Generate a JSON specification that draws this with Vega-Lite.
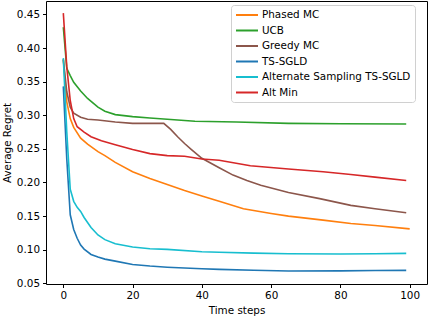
{
  "$schema": "https://vega.github.io/schema/vega-lite/v6.json",
  "width": 381,
  "height": 283,
  "autosize": {"type": "none"},
  "padding": {"left": 46, "top": 1, "right": 1, "bottom": 34},
  "background": "white",
  "config": {
    "font": "DejaVu Sans",
    "view": {"stroke": "black", "strokeWidth": 1},
    "axis": {"grid": false, "domain": false, "tickColor": "black", "tickSize": 3.5, "labelColor": "black", "labelFontSize": 10.4, "titleFontSize": 10.4, "titleFontWeight": "normal", "titleColor": "black", "labelPadding": 3}
  },
  "data": {"values": [
    {"series":"Phased MC","step":0,"regret":0.383},{"series":"Phased MC","step":1,"regret":0.320},{"series":"Phased MC","step":2,"regret":0.295},{"series":"Phased MC","step":3,"regret":0.282},{"series":"Phased MC","step":5,"regret":0.266},{"series":"Phased MC","step":7,"regret":0.257},{"series":"Phased MC","step":10,"regret":0.246},{"series":"Phased MC","step":12,"regret":0.240},{"series":"Phased MC","step":15,"regret":0.230},{"series":"Phased MC","step":20,"regret":0.216},{"series":"Phased MC","step":25,"regret":0.206},{"series":"Phased MC","step":30,"regret":0.197},{"series":"Phased MC","step":35,"regret":0.188},{"series":"Phased MC","step":40,"regret":0.180},{"series":"Phased MC","step":45,"regret":0.172},{"series":"Phased MC","step":52,"regret":0.161},{"series":"Phased MC","step":60,"regret":0.154},{"series":"Phased MC","step":65,"regret":0.150},{"series":"Phased MC","step":75,"regret":0.144},{"series":"Phased MC","step":83,"regret":0.139},{"series":"Phased MC","step":90,"regret":0.136},{"series":"Phased MC","step":100,"regret":0.131},
    {"series":"UCB","step":0,"regret":0.431},{"series":"UCB","step":1,"regret":0.370},{"series":"UCB","step":2,"regret":0.359},{"series":"UCB","step":3,"regret":0.349},{"series":"UCB","step":5,"regret":0.336},{"series":"UCB","step":7,"regret":0.325},{"series":"UCB","step":10,"regret":0.312},{"series":"UCB","step":12,"regret":0.306},{"series":"UCB","step":15,"regret":0.301},{"series":"UCB","step":20,"regret":0.298},{"series":"UCB","step":25,"regret":0.296},{"series":"UCB","step":30,"regret":0.294},{"series":"UCB","step":38,"regret":0.291},{"series":"UCB","step":50,"regret":0.290},{"series":"UCB","step":65,"regret":0.288},{"series":"UCB","step":80,"regret":0.2875},{"series":"UCB","step":99,"regret":0.287},
    {"series":"Greedy MC","step":0,"regret":0.383},{"series":"Greedy MC","step":1,"regret":0.335},{"series":"Greedy MC","step":2,"regret":0.312},{"series":"Greedy MC","step":3,"regret":0.303},{"series":"Greedy MC","step":5,"regret":0.297},{"series":"Greedy MC","step":7,"regret":0.294},{"series":"Greedy MC","step":10,"regret":0.293},{"series":"Greedy MC","step":15,"regret":0.290},{"series":"Greedy MC","step":20,"regret":0.288},{"series":"Greedy MC","step":25,"regret":0.288},{"series":"Greedy MC","step":29,"regret":0.288},{"series":"Greedy MC","step":31,"regret":0.279},{"series":"Greedy MC","step":33,"regret":0.268},{"series":"Greedy MC","step":35,"regret":0.258},{"series":"Greedy MC","step":37,"regret":0.249},{"series":"Greedy MC","step":40,"regret":0.236},{"series":"Greedy MC","step":45,"regret":0.222},{"series":"Greedy MC","step":49,"regret":0.211},{"series":"Greedy MC","step":53,"regret":0.203},{"series":"Greedy MC","step":57,"regret":0.196},{"series":"Greedy MC","step":65,"regret":0.185},{"series":"Greedy MC","step":74,"regret":0.176},{"series":"Greedy MC","step":83,"regret":0.166},{"series":"Greedy MC","step":90,"regret":0.161},{"series":"Greedy MC","step":99,"regret":0.155},
    {"series":"TS-SGLD","step":0,"regret":0.343},{"series":"TS-SGLD","step":1,"regret":0.235},{"series":"TS-SGLD","step":2,"regret":0.152},{"series":"TS-SGLD","step":3,"regret":0.130},{"series":"TS-SGLD","step":4,"regret":0.117},{"series":"TS-SGLD","step":5,"regret":0.107},{"series":"TS-SGLD","step":6,"regret":0.101},{"series":"TS-SGLD","step":8,"regret":0.093},{"series":"TS-SGLD","step":10,"regret":0.089},{"series":"TS-SGLD","step":12,"regret":0.086},{"series":"TS-SGLD","step":15,"regret":0.083},{"series":"TS-SGLD","step":20,"regret":0.078},{"series":"TS-SGLD","step":25,"regret":0.0757},{"series":"TS-SGLD","step":30,"regret":0.074},{"series":"TS-SGLD","step":40,"regret":0.0716},{"series":"TS-SGLD","step":45,"regret":0.0708},{"series":"TS-SGLD","step":55,"regret":0.0695},{"series":"TS-SGLD","step":65,"regret":0.0683},{"series":"TS-SGLD","step":80,"regret":0.0685},{"series":"TS-SGLD","step":90,"regret":0.069},{"series":"TS-SGLD","step":99,"regret":0.0693},
    {"series":"Alternate Sampling TS-SGLD","step":0,"regret":0.385},{"series":"Alternate Sampling TS-SGLD","step":1,"regret":0.275},{"series":"Alternate Sampling TS-SGLD","step":2,"regret":0.190},{"series":"Alternate Sampling TS-SGLD","step":3,"regret":0.172},{"series":"Alternate Sampling TS-SGLD","step":4,"regret":0.163},{"series":"Alternate Sampling TS-SGLD","step":5,"regret":0.157},{"series":"Alternate Sampling TS-SGLD","step":6,"regret":0.148},{"series":"Alternate Sampling TS-SGLD","step":8,"regret":0.133},{"series":"Alternate Sampling TS-SGLD","step":10,"regret":0.122},{"series":"Alternate Sampling TS-SGLD","step":12,"regret":0.115},{"series":"Alternate Sampling TS-SGLD","step":15,"regret":0.109},{"series":"Alternate Sampling TS-SGLD","step":20,"regret":0.104},{"series":"Alternate Sampling TS-SGLD","step":25,"regret":0.1015},{"series":"Alternate Sampling TS-SGLD","step":30,"regret":0.1005},{"series":"Alternate Sampling TS-SGLD","step":40,"regret":0.097},{"series":"Alternate Sampling TS-SGLD","step":45,"regret":0.0963},{"series":"Alternate Sampling TS-SGLD","step":55,"regret":0.095},{"series":"Alternate Sampling TS-SGLD","step":65,"regret":0.094},{"series":"Alternate Sampling TS-SGLD","step":80,"regret":0.0936},{"series":"Alternate Sampling TS-SGLD","step":90,"regret":0.094},{"series":"Alternate Sampling TS-SGLD","step":99,"regret":0.0945},
    {"series":"Alt Min","step":0,"regret":0.452},{"series":"Alt Min","step":1,"regret":0.372},{"series":"Alt Min","step":2,"regret":0.322},{"series":"Alt Min","step":3,"regret":0.295},{"series":"Alt Min","step":4,"regret":0.283},{"series":"Alt Min","step":6,"regret":0.275},{"series":"Alt Min","step":8,"regret":0.268},{"series":"Alt Min","step":11,"regret":0.262},{"series":"Alt Min","step":15,"regret":0.256},{"series":"Alt Min","step":20,"regret":0.249},{"series":"Alt Min","step":25,"regret":0.243},{"series":"Alt Min","step":30,"regret":0.240},{"series":"Alt Min","step":35,"regret":0.239},{"series":"Alt Min","step":40,"regret":0.235},{"series":"Alt Min","step":45,"regret":0.233},{"series":"Alt Min","step":54,"regret":0.225},{"series":"Alt Min","step":65,"regret":0.220},{"series":"Alt Min","step":75,"regret":0.216},{"series":"Alt Min","step":83,"regret":0.212},{"series":"Alt Min","step":90,"regret":0.208},{"series":"Alt Min","step":99,"regret":0.203}
  ]},
  "mark": {"type": "line", "strokeWidth": 1.6, "clip": true},
  "encoding": {
    "x": {"field": "step", "type": "quantitative", "scale": {"domain": [-5, 105], "nice": false, "zero": false},
      "axis": {"values": [0, 20, 40, 60, 80, 100], "title": "Time steps", "titlePadding": 5}},
    "y": {"field": "regret", "type": "quantitative", "scale": {"domain": [0.049, 0.47], "nice": false, "zero": false},
      "axis": {"values": [0.05, 0.1, 0.15, 0.2, 0.25, 0.3, 0.35, 0.4, 0.45], "format": ".2f", "title": "Average Regret", "titlePadding": 4}},
    "color": {"field": "series", "type": "nominal",
      "scale": {"domain": ["Phased MC", "UCB", "Greedy MC", "TS-SGLD", "Alternate Sampling TS-SGLD", "Alt Min"],
        "range": ["#ff7f0e", "#2ca02c", "#8c564b", "#1f77b4", "#17becf", "#d62728"]},
      "legend": {"orient": "none", "legendX": 185, "legendY": 4, "title": null, "symbolType": "M-1,0H3.4", "symbolSize": 100, "symbolStrokeWidth": 2, "symbolFillColor": "transparent", "labelFontSize": 10.4, "labelColor": "black", "labelOffset": 15, "rowPadding": 3.5, "padding": 4, "strokeColor": "#d0d0d0", "fillColor": "white", "cornerRadius": 3}}
  }
}
